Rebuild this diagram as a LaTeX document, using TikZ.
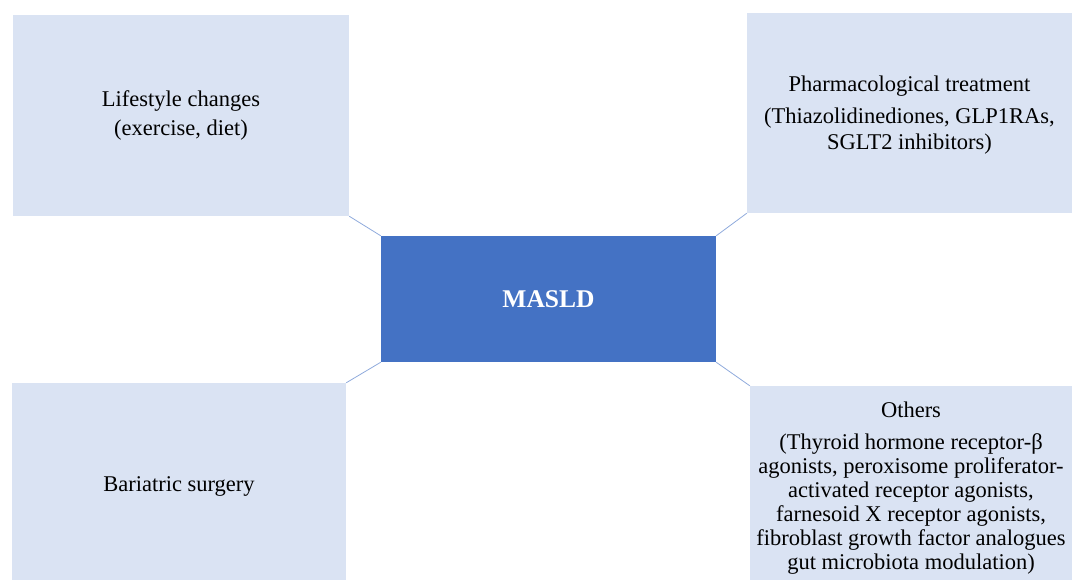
\documentclass[tikz,border=0pt]{standalone}
\usepackage{fontspec}
\setmainfont{Liberation Serif}
\usetikzlibrary{positioning}

\definecolor{boxfill}{HTML}{DAE3F3}
\definecolor{mainfill}{HTML}{4472C4}
\definecolor{linkline}{HTML}{8FAADC}

\tikzset{
  topic/.style={rectangle, fill=boxfill, inner sep=0pt, align=center,
    font=\fontsize{22.5}{24}\selectfont},
  hub/.style={rectangle, fill=mainfill, inner sep=0pt, align=center,
    text=white, font=\fontsize{25.5}{30}\selectfont\bfseries},
  link/.style={draw=linkline, line width=0.8pt}
}

\begin{document}
\begin{tikzpicture}[x=1pt,y=-1pt]

	\useasboundingbox (0,0) rectangle (1072,579);

	\node (masld) [hub, minimum width=335pt, minimum height=126pt] at (548.5, 299) {MASLD};

	\node (lifestyle) [topic, minimum width=336pt, minimum height=201pt,
	  font=\fontsize{22.5}{29}\selectfont] at (181, 115.5)
	{Lifestyle changes\\(exercise, diet)};
	\node (pharma) [topic, minimum width=325pt, minimum height=200pt,
	  font=\fontsize{22.5}{26}\selectfont] at (909.5, 113)
	{\\[-6pt]Pharmacological treatment\\[6pt](Thiazolidinediones, GLP1RAs,\\SGLT2 inhibitors)};
	\node (bariatric) [topic, minimum width=334pt, minimum height=206pt] at (179, 486)
	{Bariatric surgery};
	\node (others) [topic, minimum width=322pt, minimum height=204pt] at (911, 488)
	{Others\\[8pt](Thyroid hormone receptor-β\\agonists, peroxisome proliferator-\\activated receptor agonists,\\farnesoid X receptor agonists,\\fibroblast growth factor analogues\\gut microbiota modulation)};

	\path[link]
	(lifestyle.south east) edge (masld.north west)
	(pharma.south west) edge (masld.north east)
	(bariatric.north east) edge (masld.south west)
	(others.north west) edge (masld.south east);

\end{tikzpicture}
\end{document}
